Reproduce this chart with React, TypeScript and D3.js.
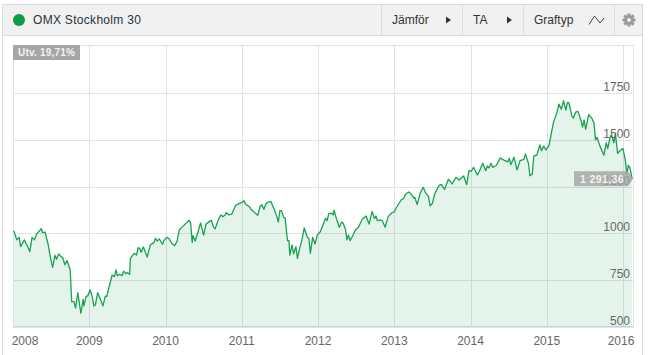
import React from "react";
import * as d3 from "d3";

const titleText = "OMX Stockholm 30";
const changeLabel = "Utv. 19,71%";
const lastLabel = "1 291,36";
const menuLabels = ["Jämför", "TA", "Graftyp"];
const yearTicks = [2008, 2009, 2010, 2011, 2012, 2013, 2014, 2015, 2016];
const valueTicks = [500, 750, 1000, 1250, 1500, 1750];
const valueTickLabels = [500, 750, 1000, 1250, 1500, 1750];

const elapsedYears = [
  0.01,.05,.08,.10,.15,.18,.19,.22,.25,.28,.31,.34,.37,.39,.42,.46,.49,.52,.55,.57,.60,.63,.65,.68,.71,.75,.77,.80,.82,.85,.89,.92,.93,.96,.98,
  1.01,1.04,1.06,1.08,1.11,1.15,1.18,1.21,1.23,1.26,1.27,1.30,1.33,1.35,1.37,1.40,1.43,1.45,1.48,1.50,1.53,1.54,1.59,1.62,1.64,1.66,1.68,1.71,1.76,1.80,1.85,1.87,1.89,1.92,1.96,1.98,
  2.02,2.05,2.08,2.12,2.15,2.18,2.21,2.31,2.33,2.35,2.36,2.39,2.43,2.46,2.50,2.53,2.56,2.60,2.63,2.65,2.70,2.73,2.75,2.78,2.80,2.83,2.87,2.92,2.94,2.97,
  3.01,3.03,3.05,3.10,3.13,3.18,3.21,3.24,3.26,3.29,3.32,3.35,3.38,3.43,3.46,3.48,3.50,3.52,3.55,3.57,3.58,3.60,3.62,3.63,3.66,3.68,3.71,3.73,3.76,3.79,3.82,3.86,3.88,3.90,3.93,3.96,3.99,
  4.03,4.06,4.10,4.12,4.14,4.18,4.20,4.21,4.24,4.28,4.31,4.33,4.36,4.38,4.40,4.42,4.46,4.49,4.53,4.58,4.63,4.67,4.71,4.74,4.76,4.78,4.83,4.85,4.88,4.92,4.97,
  5.00,5.03,5.09,5.12,5.15,5.19,5.22,5.26,5.27,5.30,5.34,5.38,5.41,5.45,5.47,5.50,5.53,5.56,5.59,5.62,5.66,5.71,5.76,5.81,5.85,5.91,5.95,5.98,
  6.01,6.04,6.09,6.12,6.16,6.20,6.22,6.24,6.27,6.29,6.34,6.39,6.44,6.49,6.51,6.53,6.57,6.61,6.65,6.70,6.72,6.76,6.78,6.81,6.83,6.87,6.91,6.93,6.96,6.99,
  7.03,7.06,7.09,7.13,7.16,7.19,7.22,7.25,7.27,7.29,7.33,7.35,7.38,7.41,7.45,7.47,7.49,7.51,7.55,7.59,7.62,7.64,7.66,7.70,7.75,7.78,7.80,7.83,7.85,7.88,7.90,7.93,7.97,
  8.00,8.03,8.05,8.07,8.09,8.12,
];

const closes = [
  1013,964,978,928,964,937,931,901,978,964,996,1010,1024,1003,1006,942,871,817,882,860,889,874,871,831,853,803,633,633,598,681,571,646,610,663,663,
  696,660,610,615,681,642,610,663,660,713,728,776,767,803,772,780,772,797,783,790,780,865,892,883,922,919,898,926,872,937,951,973,958,969,941,962,
  978,969,946,933,955,1017,1030,1069,1053,951,987,958,1012,1055,990,1048,1058,1069,1033,1023,1080,1098,1089,1096,1110,1098,1103,1150,1153,1160,
  1167,1174,1157,1142,1124,1107,1096,1142,1153,1128,1160,1167,1171,1124,1089,1060,1121,1121,1085,1081,1035,960,960,883,937,889,928,865,919,964,1028,978,973,892,978,942,990,
  1008,1039,1080,1067,1103,1107,1098,1124,1080,1032,1060,1053,1021,964,990,960,990,1017,1032,1075,1092,1049,1117,1078,1092,1067,1071,1062,1032,1089,1110,
  1114,1139,1178,1185,1210,1221,1210,1187,1192,1153,1214,1246,1217,1196,1146,1160,1210,1235,1257,1260,1235,1289,1264,1300,1285,1307,1260,1335,
  1332,1353,1312,1335,1375,1335,1360,1350,1375,1353,1364,1403,1392,1382,1401,1367,1407,1339,1389,1396,1425,1375,1308,1317,1414,1419,1473,1442,1467,1446,
  1471,1535,1598,1642,1692,1664,1710,1660,1699,1699,1627,1617,1649,1653,1603,1568,1607,1557,1636,1617,1589,1500,1514,1464,1418,1485,1453,1514,1528,1485,1532,1428,1446,
  1453,1392,1321,1364,1353,1291.36,
];

const FONT = "'Liberation Sans', Arial, sans-serif";
const L = 13, R = 633, T = 45, B = 326.5;

export default function App() {
  const x = d3.scaleLinear().domain([0, 620 / 76.25]).range([L, R]);
  const y = d3.scaleLinear().domain([500, 1750]).range([B, 93.25]);
  const points = elapsedYears.map((t, i) => [x(t), y(closes[i])] as [number, number]);
  const line = d3.line()(points) as string;
  const area = d3.area().x(d => d[0]).y0(B).y1(d => d[1])(points) as string;
  const lastY = y(closes[closes.length - 1]);

  return (
    <svg width={648} height={355} style={{ position: "absolute", left: 0, top: 0, background: "#fff" }} fontFamily={FONT}>
      {/* frame + header */}
      <rect x={2.5} y={4.5} width={640} height={400} fill="#fff" stroke="#dcdcdc" />
      <rect x={3} y={5} width={639} height={30} fill="#f1f1f1" />
      <line x1={3} x2={642} y1={35.5} y2={35.5} stroke="#dcdcdc" />
      {[381.5, 462.5, 523.5, 614.5].map(px => (
        <line key={px} x1={px} x2={px} y1={5} y2={35} stroke="#dcdcdc" />
      ))}
      <circle cx={19} cy={20} r={6} fill="#0a9e46" />
      <text x={33} y={24} fontSize={12} fill="#26323c" letterSpacing={0.3}>{titleText}</text>
      <text x={392} y={24} fontSize={12} fill="#333">{menuLabels[0]}</text>
      <path d="M446 16.5 L451 20 L446 23.5 Z" fill="#333" />
      <text x={473} y={24} fontSize={12} fill="#333">{menuLabels[1]}</text>
      <path d="M507 16.5 L512 20 L507 23.5 Z" fill="#333" />
      <text x={534} y={24} fontSize={12} fill="#333">{menuLabels[2]}</text>
      <path d="M589 24.5 L594.5 16 L600 23 L604 18" fill="none" stroke="#444" strokeWidth={1} />
      <g transform="translate(629 20)" fill="#9a9a9a">
        {d3.range(8).map(i => (
          <rect key={i} x={-1.5} y={-6.5} width={3} height={3} transform={`rotate(${i * 45})`} />
        ))}
        <path d="M0 -4.8 A4.8 4.8 0 1 1 -0.01 -4.8 Z M0 -2 A2 2 0 1 0 0.01 -2 Z" fillRule="evenodd" />
      </g>

      {/* grid */}
      <rect x={L + 0.5} y={T + 0.5} width={R - L} height={B - T} fill="none" stroke="#e3e3e3" />
      {valueTicks.map(v => (
        <line key={v} x1={L} x2={R} y1={Math.round(y(v)) + 0.5} y2={Math.round(y(v)) + 0.5} stroke="#e3e3e3" />
      ))}
      {yearTicks.map(yr => (
        <line key={yr} x1={Math.round(x(yr - 2008)) + 0.5} x2={Math.round(x(yr - 2008)) + 0.5} y1={T} y2={B} stroke="#e3e3e3" />
      ))}

      {/* series */}
      <path d={area} fill="#0a9e46" fillOpacity={0.11} />
      <path d={line} fill="none" stroke="#16a34f" strokeWidth={1.3} strokeLinejoin="round" />
      <line x1={L} x2={R} y1={326.5} y2={326.5} stroke="#c5d2e4" />

      {/* axes */}
      {yearTicks.map((yr, i) => {
        const px = i === 0 ? 25 : i === yearTicks.length - 1 ? 621 : x(yr - 2008);
        return <text key={yr} x={px} y={345} fontSize={12} fill="#666" textAnchor="middle">{yr}</text>;
      })}
      {valueTicks.map((v, i) => (
        <text key={v} x={630} y={y(v) - 2} fontSize={12} fill="#666" textAnchor="end">{valueTickLabels[i]}</text>
      ))}

      {/* labels */}
      <rect x={13} y={45} width={67} height={15} fill="#a6a6a6" />
      <text x={18} y={56} fontSize={10} fontWeight="bold" fill="#f2f2f2" letterSpacing={0.2}>{changeLabel}</text>
      <path d={`M574 ${lastY - 7.5} H628 L633 ${lastY} L628 ${lastY + 7.5} H574 Z`} fill="#a3a3a3" fillOpacity={0.8} />
      <text x={580} y={lastY + 4} fontSize={10.5} fontWeight="bold" fill="#f2f2f2" letterSpacing={0.4}>{lastLabel}</text>
    </svg>
  );
}
